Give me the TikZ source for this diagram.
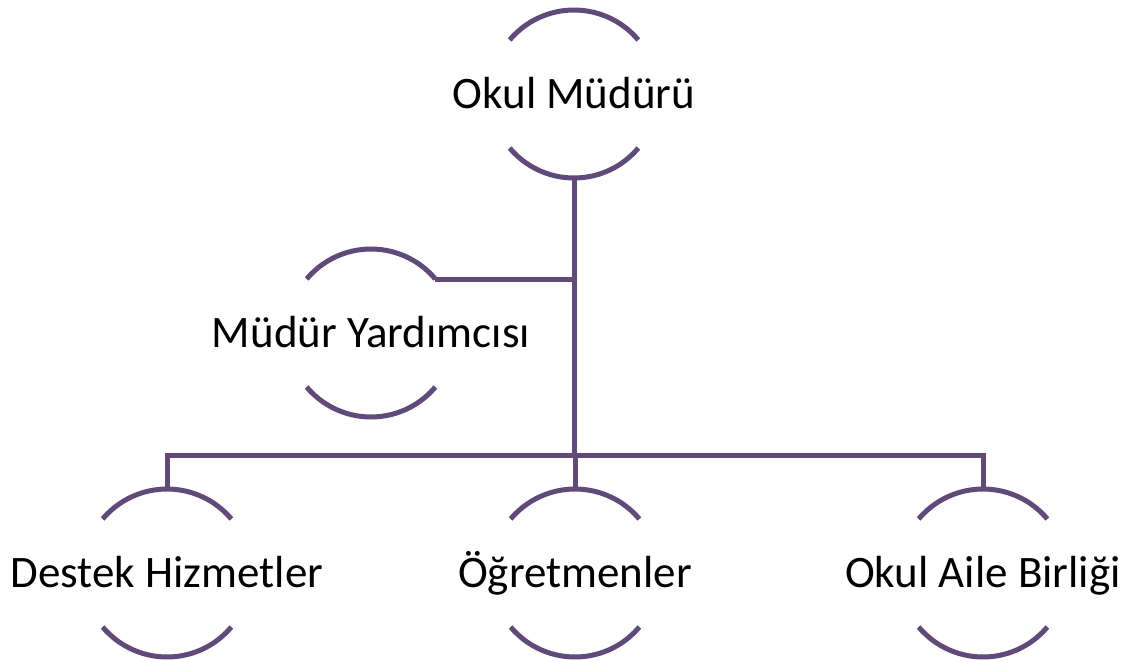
\documentclass[tikz,border=0pt]{standalone}
\usepackage{fontspec}
\setmainfont{Carlito}
\usetikzlibrary{calc}
\definecolor{orgpurple}{RGB}{96,74,122}

\begin{document}
\begin{tikzpicture}[x=1pt,y=-1pt]
\tikzset{unit/.style={inner sep=0pt, font=\fontsize{45}{54}\selectfont, execute at begin node={\vphantom{Öğ}}},
  link/.style={orgpurple, line width=5pt}}
\useasboundingbox (0,0) rectangle (1128,661);
% units
\node[unit] (mudur) at (574,94) {Okul Müdürü};
\node[unit] (yard) at (371,333) {Müdür Yardımcısı};
\node[unit] (destek) at (167,573) {Destek Hizmetler};
\node[unit] (ogret) at (575,573) {Öğretmenler};
\node[unit] (aile) at (983,573) {Okul Aile Birliği};
% arcs round the units
\foreach \n in {mudur,yard,destek,ogret,aile} {
  \draw[link] ($(\n.center)+(140:84pt)$) arc[start angle=140, end angle=40, radius=84pt];
  \draw[link] ($(\n.center)+(220:84pt)$) arc[start angle=220, end angle=320, radius=84pt];
  \coordinate (\n-top) at ($(\n.center)+(90:84pt)$);
}
% connectors
\coordinate (mudur-bot) at ($(mudur.center)+(270:84pt)$);
\coordinate (yard-ne) at ($(yard.center)+(40:84pt)$);
\coordinate (bar) at (574,455);
\draw[link] (mudur-bot) -- (bar);
\draw[link] (yard-ne) -- (yard-ne -| mudur-bot);
\draw[link] (destek-top) -- (destek-top |- bar) -- (aile-top |- bar) -- (aile-top);
\draw[link] (ogret-top) -- (ogret-top |- bar);
\end{tikzpicture}
\end{document}
